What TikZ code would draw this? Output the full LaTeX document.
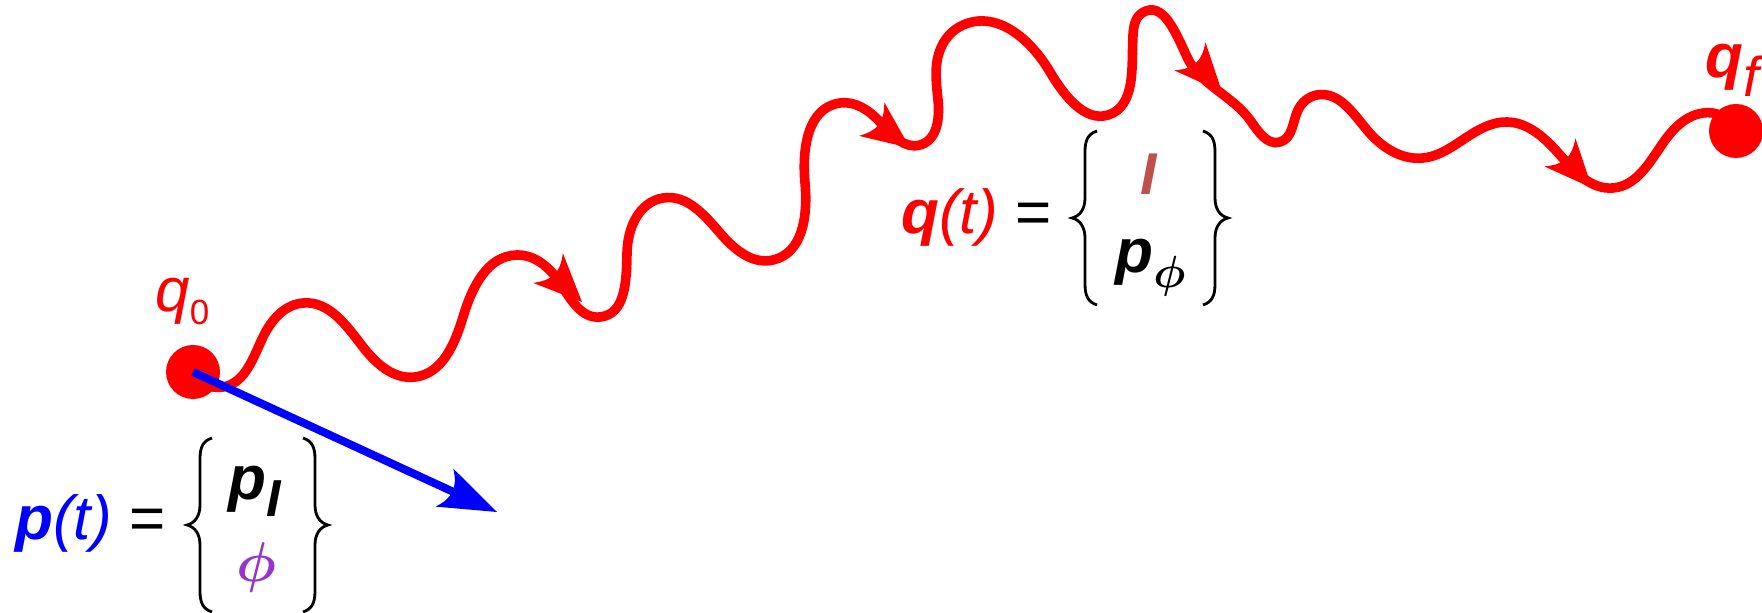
\RequirePackage{fix-cm}
\documentclass[tikz,border=0pt]{standalone}
\usepackage{fontspec}
\usepackage{amsmath}
\setmainfont{Liberation Sans}
\usetikzlibrary{hobby}
\definecolor{qred}{RGB}{255,0,0}
\definecolor{pblue}{RGB}{0,0,255}
\definecolor{ired}{RGB}{192,80,77}
\definecolor{phipurple}{RGB}{153,51,204}
\newcommand\mainsize{\fontsize{31}{37}\selectfont}
\begin{document}
\begin{tikzpicture}[x=0.5pt,y=-0.5pt,
  wave/.style={draw=qred, line width=4.8pt, line join=round, line cap=round},
  dot/.style={circle, fill=qred, inner sep=0pt, minimum size=27pt},
  lbl/.style={inner sep=0pt, anchor=base west, font=\mainsize},
  bracestroke/.style={line width=1.4pt, draw=black},
  lbrace/.pic={\draw[bracestroke] (25,-87) .. controls (16,-84) and (13,-78) .. (13,-66) -- (13,-20) .. controls (13,-9) and (8,-2) .. (0,0) .. controls (8,2) and (13,9) .. (13,20) -- (13,66) .. controls (13,78) and (16,84) .. (25,87);},
  rhead/.pic={\fill[qred] (0,0) -- (-48,-21) .. controls (-36,-5) and (-36,5) .. (-48,21) -- cycle;},
  bhead/.pic={\fill[pblue] (0,0) -- (-58,-21) .. controls (-46,-6) and (-46,6) .. (-58,21) -- cycle;}
]
\useasboundingbox (0,0) rectangle (1762,613);
% end points
\node[dot] (q0) at (193,372) {};
\node[dot] (qf) at (1736,131) {};
% wavy path
\draw[wave, use Hobby shortcut] (q0.center) .. (223,387) .. (263,337) .. (303,303)
 .. (363,347) .. (415,377) .. (463,317) .. (517,255) .. (560,283) .. (600,317)
 .. (627,253) .. (663,198) .. (720,233) .. (773,260) .. (805,183) .. (840,103)
 .. (880,122) .. (920,145) .. (938,100) .. (940,50) .. (963,25) .. (1050,72)
 .. (1113,113) .. (1131,80) .. (1133,35) .. (1142,13) .. (1187,57) .. (1250,120)
 .. (1280,142) .. (1298,110) .. (1317,95) .. (1367,130) .. (1423,158) .. (1467,137)
 .. (1507,122) .. (1560,155) .. (1613,188) .. (1663,143) .. (1703,113) .. (1720,115)
 .. (qf.center);
% arrowheads on the path
\coordinate (a1) at (582,302);
\coordinate (a2) at (910,148);
\coordinate (a3) at (1222,92);
\coordinate (a4) at (1592,188);
\pic[rotate=-45] at (a1) {rhead};
\pic[rotate=-37] at (a2) {rhead};
\pic[rotate=-48] at (a3) {rhead};
\pic[rotate=-48] at (a4) {rhead};
% blue momentum arrow
\coordinate (ptip) at (497,512);
\draw[pblue, line width=4pt, shorten >=22pt] (q0.center) -- (ptip);
\pic[rotate=-24.9] at (ptip) {bhead};
% labels
\node[lbl, text=qred] (lq0) at (155,312) {\itshape q\raisebox{-6.5pt}{\upshape\fontsize{17.5}{20}\selectfont 0}};
\node[lbl, text=qred] (lqf) at (1705,78) {\bfseries\itshape q\raisebox{-9.5pt}{\mdseries\fontsize{28}{32}\selectfont f}};
% p(t)
\node[lbl] (pt) at (15,540) {\textcolor{pblue}{\bfseries\itshape p}\textcolor{pblue}{\itshape(t)} =};
\pic at (187,525) {lbrace};
\pic[xscale=-1] at (328,525) {lbrace};
\node[lbl] (pI) at (228,500) {\bfseries\itshape p\raisebox{-8.5pt}{\fontsize{26}{30}\selectfont I}};
\node[inner sep=0pt, anchor=base, text=phipurple] (phi) at (256,582) {\fontsize{28}{32}\selectfont$\boldsymbol{\phi}$};
% q(t)
\node[lbl] (qt) at (901,234) {\textcolor{qred}{\bfseries\itshape q}\textcolor{qred}{\itshape(t)} =};
\pic at (1072,218) {lbrace};
\pic[xscale=-1] at (1228,218) {lbrace};
\node[lbl, text=ired] (lI) at (1140,195) {\fontsize{29.5}{34}\selectfont\bfseries\itshape I};
\node[lbl] (pphi) at (1115,273) {\bfseries\itshape p\raisebox{-7.5pt}{\fontsize{22.5}{26}\selectfont$\boldsymbol{\phi}$}};
\end{tikzpicture}
\end{document}
